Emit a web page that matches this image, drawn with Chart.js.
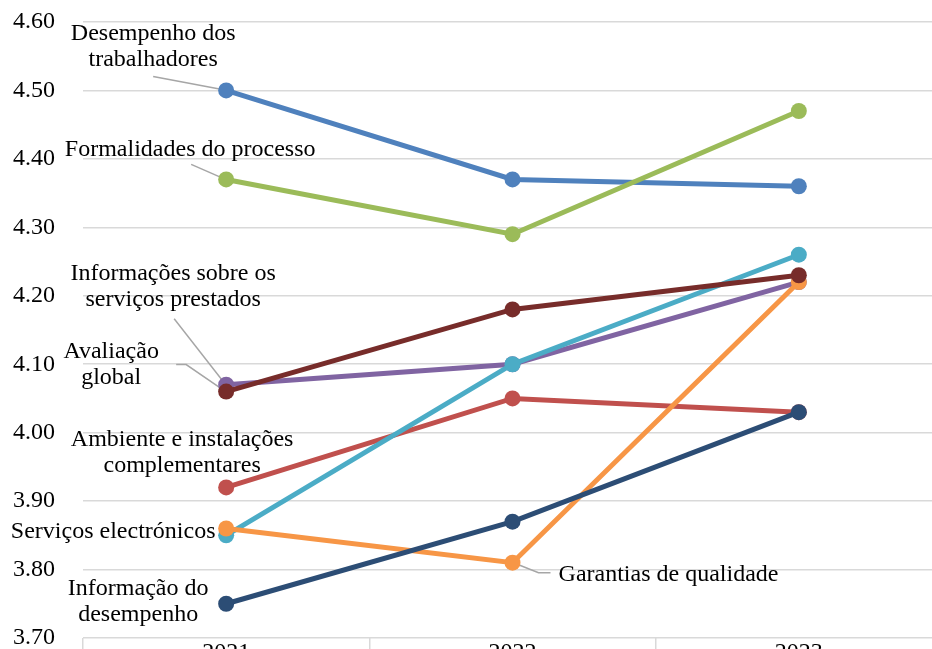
<!DOCTYPE html>
<html>
<head>
<meta charset="utf-8">
<script src="https://cdn.jsdelivr.net/npm/chart.js@4/dist/chart.umd.min.js"></script>
<style>
html,body{margin:0;padding:0;background:#fff;width:932px;height:649px;overflow:hidden;}
#wrap{position:absolute;left:0;top:0;width:960px;height:700px;}
</style>
</head>
<body>
<div id="wrap"><canvas id="c"></canvas></div>
<script>
// ---- data ----
const years = ['2021', '2022', '2023'];
const seriesNames = [
  'Desempenho dos trabalhadores',
  'Ambiente e instalações complementares',
  'Formalidades do processo',
  'Informações sobre os serviços prestados',
  'Serviços electrónicos',
  'Garantias de qualidade',
  'Informação do desempenho',
  'Avaliação global'
];
const desempenhoTrabalhadores = [4.50, 4.37, 4.36];
const ambienteInstalacoes     = [3.92, 4.05, 4.03];
const formalidadesProcesso    = [4.37, 4.29, 4.47];
const informacoesServicos     = [4.07, 4.10, 4.22];
const servicosElectronicos    = [3.85, 4.10, 4.26];
const garantiasQualidade      = [3.86, 3.81, 4.22];
const informacaoDesempenho    = [3.75, 3.87, 4.03];
const avaliacaoGlobal         = [4.06, 4.18, 4.23];
const yTicks = [3.70, 3.80, 3.90, 4.00, 4.10, 4.20, 4.30, 4.40, 4.50, 4.60];

const seriesValues = [desempenhoTrabalhadores, ambienteInstalacoes, formalidadesProcesso,
  informacoesServicos, servicosElectronicos, garantiasQualidade, informacaoDesempenho, avaliacaoGlobal];
const colors = ['#4F81BD', '#C0504D', '#9BBB59', '#8064A2', '#4BACC6', '#F79646', '#2C4D75', '#772C2A'];

// label layout: text lines, point index, block centre offset, leader polyline offsets
const labelLayout = [
  {lines:['Desempenho dos','trabalhadores'], idx:0, dx:-73, dy:-44, leader:[[-73,-14],[-4,-1]]},
  {lines:['Ambiente e instalações','complementares'], idx:0, dx:-44, dy:-35, leader:null},
  {lines:['Formalidades do processo'], idx:0, dx:-36, dy:-30, leader:[[-35,-15],[-3,-1]]},
  {lines:['Informações sobre os','serviços prestados'], idx:0, dx:-53, dy:-98, leader:[[-52,-66],[-2,-2]]},
  {lines:['Serviços electrónicos'], idx:0, dx:-113, dy:-4, leader:null},
  {lines:['Garantias de qualidade'], idx:1, dx:156, dy:12, leader:[[1,0],[26,10],[38,10]]},
  {lines:['Informação do','desempenho'], idx:0, dx:-88, dy:-2, leader:null},
  {lines:['Avaliação','global'], idx:0, dx:-115, dy:-27, leader:[[-50,-27],[-40,-27],[-2,-1]]}
];

const FONT = 'Liberation Serif';
const FS = 24;
const LH = 26;

const labelPlugin = {
  id: 'seriesLabels',
  beforeDatasetsDraw(chart) {
    const ctx = chart.ctx;
    ctx.save();
    ctx.strokeStyle = '#A6A6A6';
    ctx.lineWidth = 1.5;
    labelLayout.forEach((L, i) => {
      if (!L.leader) return;
      const p = chart.getDatasetMeta(i).data[L.idx];
      ctx.beginPath();
      L.leader.forEach((o, k) => {
        const x = p.x + o[0], y = p.y + o[1];
        if (k === 0) ctx.moveTo(x, y); else ctx.lineTo(x, y);
      });
      ctx.stroke();
    });
    ctx.restore();
  },
  afterDatasetsDraw(chart) {
    const ctx = chart.ctx;
    ctx.save();
    ctx.fillStyle = '#000';
    ctx.font = FS + 'px "' + FONT + '"';
    ctx.textAlign = 'center';
    ctx.textBaseline = 'middle';
    labelLayout.forEach((L, i) => {
      const p = chart.getDatasetMeta(i).data[L.idx];
      const cx = p.x + L.dx, cy = p.y + L.dy;
      const n = L.lines.length;
      L.lines.forEach((t, k) => {
        ctx.fillText(t, cx, cy + (k - (n - 1) / 2) * LH);
      });
    });
    ctx.restore();
  }
};

const datasets = seriesNames.map((name, i) => ({
  label: name,
  data: seriesValues[i],
  borderColor: colors[i],
  backgroundColor: colors[i],
  pointBackgroundColor: colors[i],
  pointBorderColor: colors[i],
  borderWidth: 5,
  pointRadius: 8,
  pointBorderWidth: 0,
  tension: 0,
  order: seriesNames.length - i
}));

new Chart(document.getElementById('c'), {
  type: 'line',
  data: { labels: years, datasets },
  plugins: [labelPlugin],
  options: {
    responsive: true,
    maintainAspectRatio: false,
    animation: false,
    layout: { padding: { top: 22, right: 18, left: 0, bottom: 0 } },
    plugins: { legend: { display: false }, tooltip: { enabled: false } },
    scales: {
      x: {
        offset: true,
        grid: { offset: true, drawOnChartArea: false, drawTicks: true, tickLength: 14, color: '#D9D9D9', lineWidth: 1.5 },
        border: { display: false },
        ticks: { color: '#000', font: { family: FONT, size: FS }, padding: -14, maxRotation: 0 },
        afterFit(s) { s.height = 62; s.paddingLeft = 0; s.paddingRight = 0; }
      },
      y: {
        min: 3.70,
        max: 4.60,
        afterBuildTicks(s) { s.ticks = yTicks.map(v => ({ value: v })); },
        grid: { color: '#D9D9D9', lineWidth: 1.5, drawTicks: false },
        border: { display: false },
        ticks: { color: '#000', font: { family: FONT, size: FS }, padding: 28,
                 callback: v => Number(v).toFixed(2) },
        afterFit(s) { s.width = 83; s.paddingTop = 0; s.paddingBottom = 0; }
      }
    }
  }
});
</script>
</body>
</html>
